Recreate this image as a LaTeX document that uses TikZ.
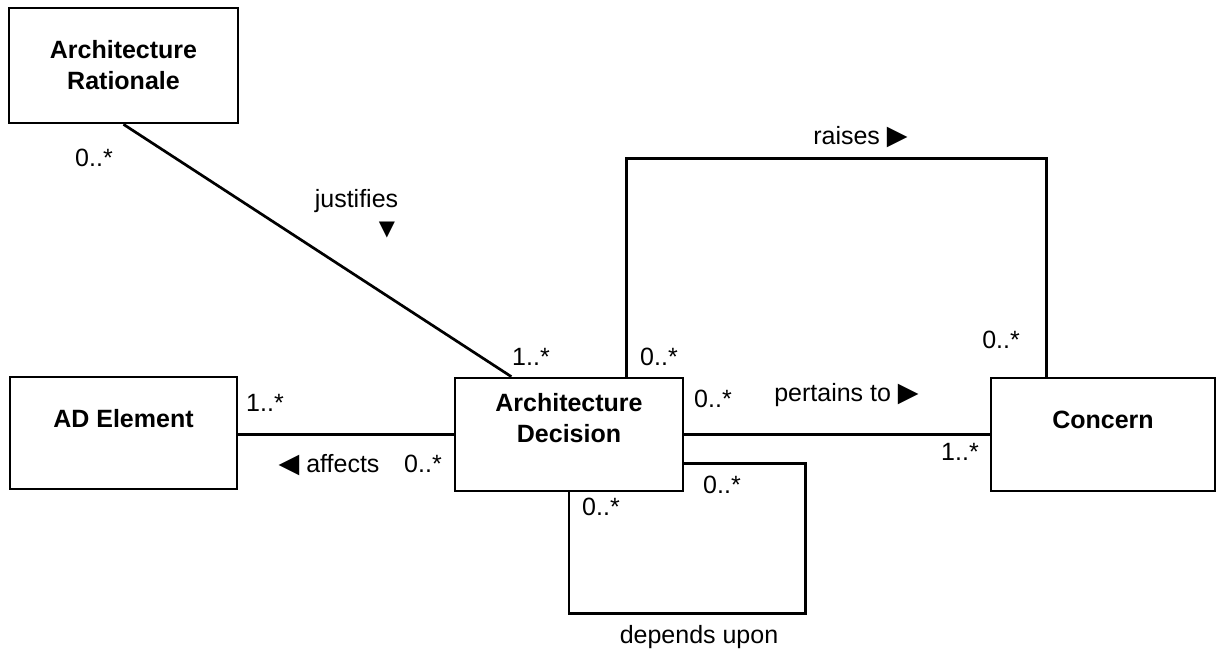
\documentclass[tikz,border=0pt]{standalone}
\usepackage{fontspec}
\setmainfont{Liberation Sans}
\newfontfamily\symfont{DejaVu Sans}
\usetikzlibrary{calc}

\newcommand\triR{{\symfont\fontsize{27}{27}\selectfont ▶}}
\newcommand\triL{{\symfont\fontsize{27}{27}\selectfont ◀}}
\newcommand\triD{{\symfont\fontsize{21}{21}\selectfont ▼}}

\begin{document}
\begin{tikzpicture}[
    x=1pt, y=-1pt,
    line width=2.7pt,
    every node/.style={inner sep=0pt, font=\fontsize{25}{31}\selectfont},
    classbox/.style={draw, minimum width=#1, minimum height=113pt},
    classname/.style={align=center, font=\fontsize{25}{31}\selectfont\bfseries},
    mult/.style={anchor=base},
]
  \useasboundingbox (0,0) rectangle (1218,650);

  % classes
  \node [classbox=229pt, minimum height=115pt] (rat)  at (123.5, 65.5) {};
  \node [classbox=227pt, minimum height=112pt] (elem) at (123.5,433  ) {};
  \node [classbox=228pt]                       (dec)  at (569,  434.5) {};
  \node [classbox=224pt]                       (conc) at (1103, 434.5) {};

  \node [classname] (rat-name)  at (rat)                {Architecture\\Rationale};
  \node [classname] (elem-name) at ($(elem)+(0,-14.5)$) {AD Element};
  \node [classname] (dec-name)  at ($(dec)+(0,-16)$)    {Architecture\\Decision};
  \node [classname] (conc-name) at ($(conc)+(0,-15)$)   {Concern};

  % associations
  \draw (rat.south) -- ($(dec.north west)!0.25!(dec.north east)$);
  \draw (dec.west -| elem.east) -- (dec.west);
  \draw (dec.east) -- (conc.west);
  \draw ($(dec.north west)!0.75!(dec.north east)$) -- ++(0,-218)
        -| ($(conc.north west)!0.25!(conc.north east)$);
  \draw ($(dec.north east)!0.75!(dec.south east)$) -| ++(121,150) -| (dec.south);

  % association names
  \node [mult] (justifies) at (356.5,207) {justifies};
  \node []     (justifies-dir) at (387,230) {\triD};
  \node [mult] (affects)   at (329,  472) {\triL\ affects};
  \node [mult] (raises)    at (860.5,145) {raises \triR};
  \node [mult] (pertains)  at (846.5,401) {pertains to \triR};
  \node [mult] (depends)   at (699,  643) {depends upon};

  % multiplicities
  \node [mult] (m-rat)    at (94,  166) {0..*};
  \node [mult] (m-dec-r)  at (531, 365) {1..*};
  \node [mult] (m-dec-c)  at (659, 365) {0..*};
  \node [mult] (m-elem)   at (265, 411) {1..*};
  \node [mult] (m-dec-e)  at (423, 472) {0..*};
  \node [mult] (m-dec-p)  at (713, 407) {0..*};
  \node [mult] (m-conc-r) at (1001,348) {0..*};
  \node [mult] (m-conc-p) at (960, 460) {1..*};
  \node [mult] (m-dep-a)  at (722, 493) {0..*};
  \node [mult] (m-dep-b)  at (601, 515) {0..*};
\end{tikzpicture}
\end{document}
